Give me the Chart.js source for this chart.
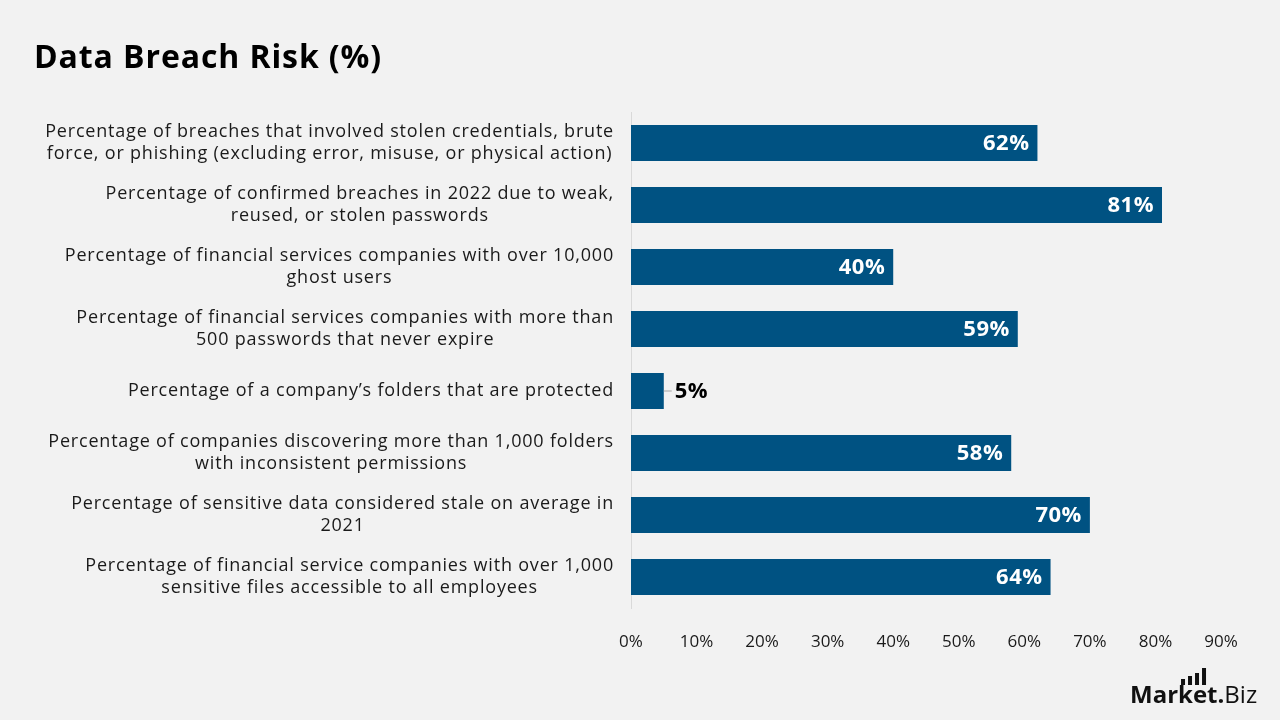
<!DOCTYPE html>
<html>
<head>
<meta charset="utf-8">
<script src="https://cdn.jsdelivr.net/npm/chart.js@4"></script>
<style>
  html, body { margin: 0; padding: 0; background: #f2f2f2; }
  #wrap { width: 1280px; height: 720px; }
</style>
</head>
<body>
<div id="wrap"><canvas id="breachChart" width="1280" height="720"></canvas></div>
<script>
const categories = [
    ['Percentage of breaches that involved stolen credentials, brute', 'force, or phishing (excluding error, misuse, or physical action)'],
    ['Percentage of confirmed breaches in 2022 due to weak,', 'reused, or stolen passwords'],
    ['Percentage of financial services companies with over 10,000', 'ghost users'],
    ['Percentage of financial services companies with more than', '500 passwords that never expire'],
    ['Percentage of a company\u2019s folders that are protected'],
    ['Percentage of companies discovering more than 1,000 folders', 'with inconsistent permissions'],
    ['Percentage of sensitive data considered stale on average in', '2021'],
    ['Percentage of financial service companies with over 1,000', 'sensitive files accessible to all employees']
]
const riskValues = [62, 81, 40, 59, 5, 58, 70, 64]
const xTicks = [0, 10, 20, 30, 40, 50, 60, 70, 80, 90]

const FONT = '"Open Sans", sans-serif'
const barColor = '#005282'

// category labels: each block centred, block right-aligned to the axis
const labelPlugin = {
    id: 'blockLabels',
    afterDraw: (chart) => {
        let ctx = chart.ctx
        let y = chart.scales.y
        ctx.save()
        ctx.font = '18px ' + FONT
        ctx.letterSpacing = '0.8px'
        ctx.fillStyle = '#1a1a1a'
        ctx.textAlign = 'center'
        ctx.textBaseline = 'middle'
        categories.forEach((lines, i) => {
            let w = Math.max(...lines.map(l => ctx.measureText(l).width))
            let cx = chart.chartArea.left - 17 - w / 2
            let cy = y.getPixelForValue(i)
            let lh = 22
            lines.forEach((l, j) => {
                ctx.fillText(l, cx, cy + (j - (lines.length - 1) / 2) * lh)
            })
        })
        ctx.restore()
    }
}

const valuePlugin = {
    id: 'valueLabels',
    afterDatasetsDraw: (chart) => {
        let ctx = chart.ctx
        let meta = chart.getDatasetMeta(0)
        ctx.save()
        ctx.font = 'bold 22px ' + FONT
        ctx.letterSpacing = '0.5px'
        ctx.textBaseline = 'middle'
        meta.data.forEach((bar, i) => {
            let v = riskValues[i]
            if (v < 10) {
                ctx.strokeStyle = '#a6a6a6'
                ctx.lineWidth = 1
                ctx.beginPath()
                ctx.moveTo(bar.x, bar.y)
                ctx.lineTo(bar.x + 8, bar.y)
                ctx.stroke()
                ctx.fillStyle = '#000000'
                ctx.textAlign = 'left'
                ctx.fillText(v + '%', bar.x + 11, bar.y + 1)
            } else {
                ctx.fillStyle = '#ffffff'
                ctx.textAlign = 'right'
                ctx.fillText(v + '%', bar.x - 8, bar.y + 1)
            }
        })
        ctx.restore()
    }
}

const titlePlugin = {
    id: 'titleText',
    afterDraw: (chart) => {
        let ctx = chart.ctx
        ctx.save()
        ctx.font = 'bold 32px ' + FONT
        ctx.letterSpacing = '0.9px'
        ctx.fillStyle = '#000000'
        ctx.textAlign = 'left'
        ctx.textBaseline = 'middle'
        ctx.fillText('Data Breach Risk (%)', 34, 59)
        ctx.restore()
    }
}

const logoPlugin = {
    id: 'logo',
    afterDraw: (chart) => {
        let ctx = chart.ctx
        ctx.save()
        ctx.fillStyle = '#111111'
        ctx.textBaseline = 'alphabetic'
        ctx.textAlign = 'left'
        ctx.font = 'bold 24px ' + FONT
        let x = 1130, base = 703
        ctx.fillText('Market', x, base)
        let w1 = ctx.measureText('Market').width
        let wMar = ctx.measureText('Mar').width
        ctx.fillText('.', x + w1, base)
        let wDot = ctx.measureText('.').width
        ctx.font = '24px ' + FONT
        ctx.fillText('Biz', x + w1 + wDot, base)
        // little bar icon above "ket"
        let bx = x + wMar + 3
        let hs = [6, 9, 12, 17]
        hs.forEach((h, k) => {
            ctx.fillRect(bx + k * 7, base - 18 - h, 4, h)
        })
        ctx.restore()
    }
}

let ctx = document.getElementById('breachChart').getContext('2d')
let myChart = new Chart(ctx, {
    type: 'bar',
    data: {
        labels: categories,
        datasets: [{
            data: riskValues,
            backgroundColor: barColor,
            borderWidth: 0,
            barPercentage: 0.9,
            categoryPercentage: 0.645
        }]
    },
    plugins: [labelPlugin, valuePlugin, titlePlugin, logoPlugin],
    options: {
        indexAxis: 'y',
        responsive: false,
        animation: false,
        layout: { padding: { left: 34, right: 59, top: 112, bottom: 62 } },
        plugins: {
            legend: { display: false },
            tooltip: { enabled: false },
            title: { display: false }
        },
        scales: {
            x: {
                min: 0,
                max: 90,
                afterBuildTicks: (scale) => { scale.ticks = xTicks.map(v => ({ value: v })) },
                afterFit: (scale) => { scale.height = 50 },
                grid: { display: false },
                border: { display: false },
                ticks: {
                    padding: 16,
                    color: '#1a1a1a',
                    font: { family: FONT, size: 17 },
                    callback: (v) => v + '%'
                }
            },
            y: {
                afterFit: (scale) => { scale.width = 597 },
                grid: { display: false },
                border: { display: true, color: '#d9d9d9', width: 1 },
                ticks: { display: false }
            }
        }
    }
})
</script>
</body>
</html>
